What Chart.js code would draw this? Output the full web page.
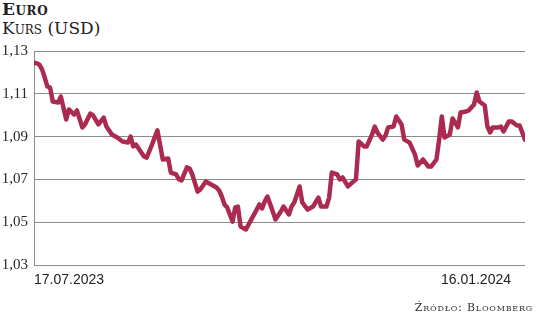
<!DOCTYPE html>
<html>
<head>
<meta charset="utf-8">
<script src="https://cdn.jsdelivr.net/npm/chart.js@4/dist/chart.umd.min.js"></script>
<style>
  html, body { margin: 0; padding: 0; background: #fff; }
  body { width: 536px; height: 317px; position: relative; overflow: hidden; }
  #c { position: absolute; left: 0; top: 0; }
  .t1 { position: absolute; left: 2px; top: -1px; font-family: "DejaVu Serif", serif; font-weight: bold; font-variant: small-caps; font-size: 17px; letter-spacing: 0.6px; color: #222; line-height: 20px; }
  .t2 { position: absolute; left: 2px; top: 17px; font-family: "DejaVu Serif", serif; font-variant: small-caps; font-size: 17px; color: #222; line-height: 22px; }
  .src { position: absolute; right: 3px; top: 301px; font-family: "DejaVu Serif", serif; font-variant: small-caps; font-size: 11px; letter-spacing: 0.8px; color: #333; line-height: 13px; }
</style>
</head>
<body>
<div class="t1">Euro</div>
<div class="t2">Kurs (USD)</div>
<canvas id="c" width="536" height="317"></canvas>
<div class="src">Źródło: Bloomberg</div>
<script>
// Days since 17.07.2023 for each observation
const days = [0,1,2,3,4,5,6,7,9,10,12,13,15,16,18,19,21,22,24,26,27,29,31,33,35,36,37,38,41,42,44,46,48,50,51,53,54,55,57,58,59,61,62,64,66,68,69,70,71,72,74,75,76,77,79,81,83,84,85,86,87,89,90,92,93,95,96,97,99,100,102,104,106,107,109,110,111,113,114,115,117,119,120,121,123,124,126,127,128,130,131,132,134,135,137,138,140,142,143,145,147,148,150,151,152,153,155,156,158,159,161,162,164,165,166,168,169,170,171,173,174,175,177,178,180,181,183];
// EUR/USD rate
const rates = [1.1246,1.1242,1.1237,1.1214,1.1176,1.1134,1.1129,1.1064,1.1059,1.1087,1.0980,1.1027,1.1003,1.1022,1.0943,1.0957,1.1008,1.0999,1.0957,1.0989,1.0947,1.0910,1.0896,1.0877,1.0872,1.0900,1.0854,1.0863,1.0807,1.0802,1.0863,1.0929,1.0793,1.0798,1.0732,1.0723,1.0700,1.0695,1.0756,1.0751,1.0723,1.0643,1.0653,1.0690,1.0676,1.0662,1.0648,1.0620,1.0583,1.0569,1.0503,1.0569,1.0573,1.0480,1.0466,1.0513,1.0559,1.0583,1.0564,1.0597,1.0620,1.0550,1.0513,1.0550,1.0573,1.0536,1.0573,1.0592,1.0667,1.0592,1.0559,1.0573,1.0615,1.0573,1.0573,1.0615,1.0732,1.0723,1.0700,1.0709,1.0667,1.0690,1.0700,1.0877,1.0854,1.0854,1.0910,1.0947,1.0919,1.0886,1.0905,1.0943,1.0947,1.0994,1.0957,1.0886,1.0872,1.0816,1.0765,1.0793,1.0760,1.0760,1.0793,1.0886,1.0994,1.0896,1.0910,1.0985,1.0943,1.1013,1.1017,1.1022,1.1050,1.1106,1.1064,1.1045,1.0947,1.0919,1.0943,1.0943,1.0947,1.0924,1.0971,1.0971,1.0952,1.0952,1.0886];
const xTickDays = [0, 183];
const xTickLabels = ['17.07.2023', '16.01.2024'];
const yTicks = [1.03, 1.05, 1.07, 1.09, 1.11, 1.13];

const points = days.map((d, i) => ({ x: d, y: rates[i] }));
const gridColor = '#8c8c8c';

new Chart(document.getElementById('c'), {
  type: 'line',
  data: {
    datasets: [{
      data: points,
      borderColor: '#ab2b50',
      borderWidth: 4.5,
      pointRadius: 0,
      tension: 0,
      borderJoinStyle: 'round',
      borderCapStyle: 'round',
      fill: false
    }]
  },
  options: {
    responsive: false,
    animation: false,
    layout: { padding: { top: 51, right: 11, bottom: 30, left: 0 } },
    plugins: { legend: { display: false }, tooltip: { enabled: false } },
    scales: {
      x: {
        type: 'linear',
        min: xTickDays[0],
        max: xTickDays[xTickDays.length - 1],
        afterBuildTicks: (s) => { s.ticks = xTickDays.map(v => ({ value: v })); },
        afterFit: (s) => { s.height = 22; },
        grid: { display: false, drawTicks: false },
        border: { display: false },
        ticks: {
          align: 'inner',
          padding: 7,
          maxRotation: 0,
          autoSkip: false,
          color: '#222',
          font: { family: 'Liberation Sans', size: 14 },
          callback: (v, i) => xTickLabels[i] + (i === xTickLabels.length - 1 ? '\u2002\u2002' : '')
        }
      },
      y: {
        min: yTicks[0],
        max: yTicks[yTicks.length - 1],
        afterBuildTicks: (s) => { s.ticks = yTicks.map(v => ({ value: v })); },
        afterFit: (s) => { s.width = 34; },
        grid: { color: gridColor, lineWidth: 1, drawTicks: false },
        border: { display: true, color: gridColor, width: 1 },
        ticks: {
          padding: 6,
          color: '#2a2a2a',
          font: { family: 'Liberation Sans Narrow', size: 15 },
          callback: (v) => v.toFixed(2).replace('.', ',')
        }
      }
    }
  }
});
</script>
</body>
</html>
